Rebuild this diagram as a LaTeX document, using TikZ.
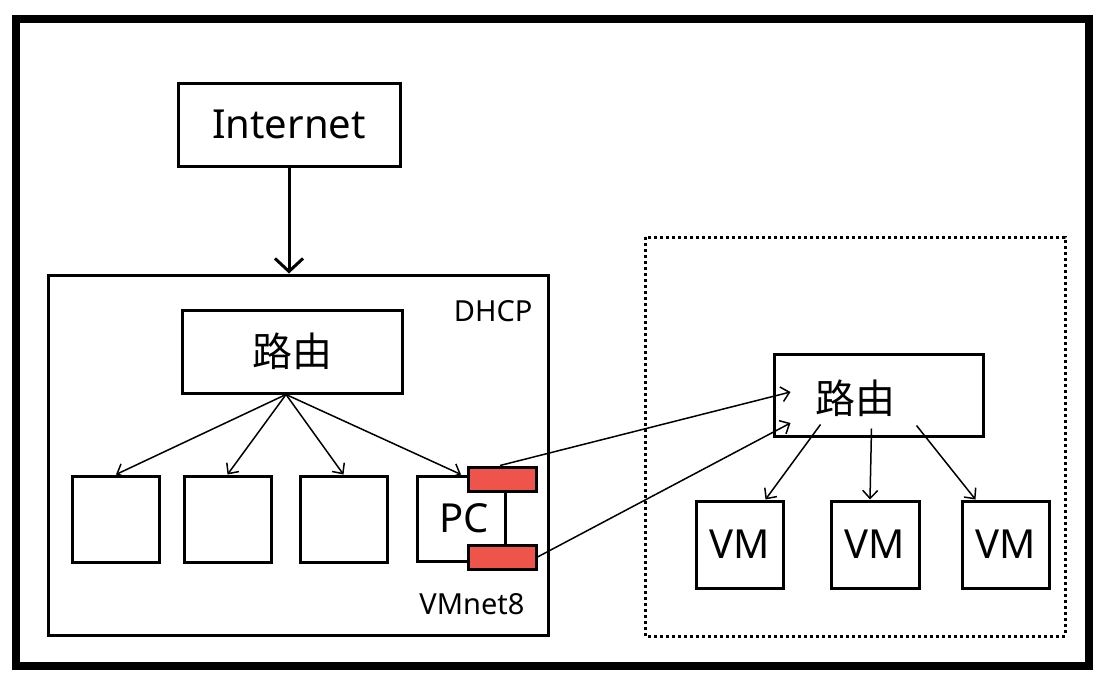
\documentclass[tikz,border=0pt]{standalone}
\usepackage{fontspec}
\setmainfont{Noto Sans}
\newfontfamily\cjk{Noto Sans CJK SC}
\usepackage{tikz}
\usetikzlibrary{positioning,arrows.meta}

\tikzset{
box/.style={draw,line width=3pt,inner sep=0pt,font=\fontsize{40}{48}\selectfont},
nic/.style={draw,line width=3pt,fill=nicred,minimum width=68,minimum height=24},
small/.style={font=\fontsize{29}{34}\selectfont},
link/.style={line width=1.5pt,-{Straight Barb[length=8pt,width=15pt,line width=1.5pt]}}
}
\definecolor{nicred}{RGB}{238,84,74}

\begin{document}
\begin{tikzpicture}[x=1pt,y=-1pt]
\useasboundingbox (0,0) rectangle (1104,680);
\draw[line width=8pt] (16,19) rectangle (1089,666);
% host side
\node[box,minimum width=222,minimum height=83] (internet) at (289,124.5) {Internet};
\node[box,minimum width=500,minimum height=360] (host) at (298,455) {};
\node[small,anchor=east] (dhcp) at (536,311) {DHCP};
\node[small] (vmnet) at (472,604) {VMnet8};
\node[box,minimum width=220,minimum height=83] (lr) at (292,351.5) {\cjk 路由};
\node[box,minimum width=87,minimum height=86] (b1) at (116,519) {};
\node[box,minimum width=87,minimum height=86] (b2) at (227.5,519) {};
\node[box,minimum width=87,minimum height=86] (b3) at (343.5,519) {};
\node[box,minimum width=88,minimum height=85] (pc) at (461,518.5) {\hspace{6pt}PC};
\node[nic] (nictop) at (502,479) {};
\node[nic] (nicbot) at (502,557) {};
\draw[line width=3pt,-{Straight Barb[length=13pt,width=28pt,line width=3pt]}] (internet.south) -- (internet.south |- host.north);
\foreach \b in {b1,b2,b3,pc}
  \draw[link] ([xshift=-6pt]lr.south) -- (\b.north);
% vm side
\draw[line width=3pt,dash pattern=on 3pt off 3pt] (645,237) rectangle (1065,636);
\node[box,minimum width=209,minimum height=82] (rr) at (878.5,395) {};
\node[font=\fontsize{40}{48}\selectfont\cjk] (rrtext) at (855,398) {路由};
\node[box,minimum width=87,minimum height=87] (vm1) at (739.5,544.5) {VM};
\node[box,minimum width=88,minimum height=87] (vm2) at (875,544.5) {VM};
\node[box,minimum width=87,minimum height=87] (vm3) at (1005.5,544.5) {VM};
\draw[link] ([xshift=-2pt]nictop.north) -- ([xshift=18pt,yshift=3pt]rr.west);
\draw[link] (nicbot.east) -- ([xshift=18pt,yshift=-28pt]rr.west);
\draw[link] ([xshift=-58pt,yshift=13pt]rr.south) -- ([xshift=26pt]vm1.north);
\draw[link] ([xshift=-7pt,yshift=9pt]rr.south) -- ([xshift=-5pt]vm2.north);
\draw[link] ([xshift=38pt,yshift=12pt]rr.south) -- ([xshift=-30pt]vm3.north);
\end{tikzpicture}
\end{document}
